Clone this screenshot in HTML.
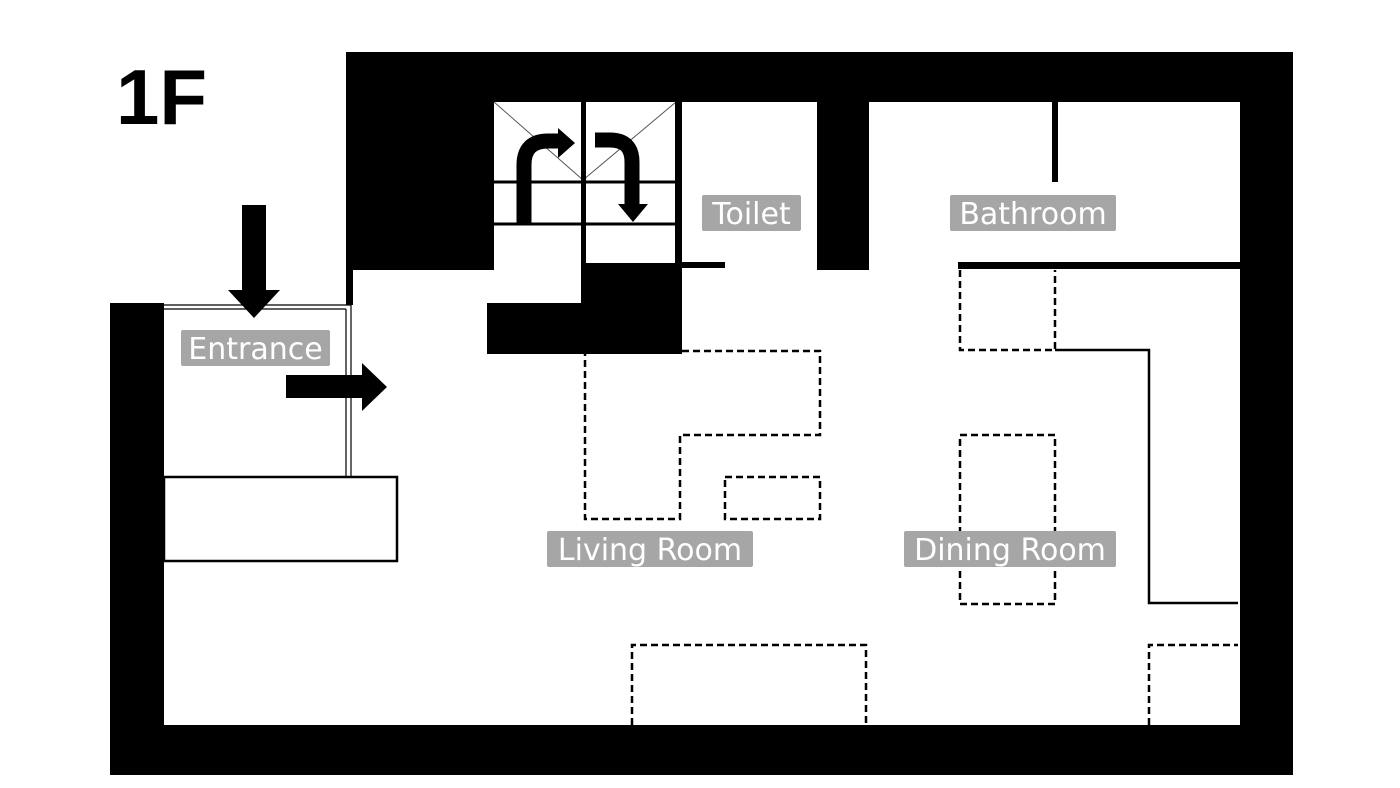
<!DOCTYPE html>
<html><head><style>
html,body{margin:0;padding:0;background:#fff;}
svg{display:block;}
.lb{font-family:"DejaVu Sans","Liberation Sans",sans-serif;font-size:30px;fill:#fff;}
</style></head><body>
<svg width="1400" height="788" viewBox="0 0 1400 788" xmlns="http://www.w3.org/2000/svg">
<rect width="1400" height="788" fill="#fff"/>
<text x="116" y="124" font-family="Liberation Sans,sans-serif" font-weight="bold" font-size="78" fill="#000">1F</text>
<!-- outer walls -->
<rect x="346" y="52" width="947" height="50" fill="#000"/>
<rect x="1240" y="52" width="53" height="723" fill="#000"/>
<rect x="110" y="725" width="1183" height="50" fill="#000"/>
<rect x="110" y="303" width="54" height="472" fill="#000"/>
<rect x="346" y="52" width="148" height="218" fill="#000"/>
<rect x="346" y="52" width="7" height="253" fill="#000"/>
<!-- stairs -->
<g stroke="#000" fill="none">
<line x1="494" y1="102" x2="583" y2="180" stroke-width="1" stroke="#555"/>
<line x1="676" y1="102" x2="583" y2="180" stroke-width="1" stroke="#555"/>
<line x1="494" y1="182" x2="676" y2="182" stroke-width="3"/>
<line x1="494" y1="224" x2="676" y2="224" stroke-width="3"/>
</g>
<rect x="581" y="102" width="5" height="203" fill="#000"/>
<rect x="675" y="102" width="7" height="168" fill="#000"/>
<rect x="583" y="263" width="99" height="91" fill="#000"/>
<rect x="487" y="303" width="100" height="51" fill="#000"/>
<rect x="680" y="262" width="45" height="6" fill="#000"/>
<!-- stair arrows -->
<path d="M524 224 V165 Q524 141 548 141 H560" stroke="#000" stroke-width="15" fill="none"/>
<polygon points="558,128 575,143 558,158" fill="#000"/>
<path d="M595 140 H610 Q632 140 632 162 V205" stroke="#000" stroke-width="15" fill="none"/>
<polygon points="618,204 648,204 633,222" fill="#000"/>
<!-- toilet/bath walls -->
<rect x="817" y="102" width="52" height="168" fill="#000"/>
<rect x="1052" y="102" width="6" height="80" fill="#000"/>
<rect x="958" y="262" width="282" height="7" fill="#000"/>
<!-- dashed furniture -->
<g stroke="#000" stroke-width="2.5" fill="none" stroke-dasharray="7,4">
<polyline points="682,351 820,351 820,435 680,435 680,519 585,519 585,354"/>
<rect x="725" y="477" width="95" height="42"/>
<rect x="960" y="435" width="95" height="169"/>
<polyline points="960,270 960,350 1055,350 1055,270"/>
<polyline points="632,725 632,645 866,645 866,725"/>
<polyline points="1149,725 1149,645 1238,645"/>
</g>
<polyline points="1055,350 1149,350 1149,603 1238,603" stroke="#000" stroke-width="2.5" fill="none"/>
<!-- entrance -->
<g stroke="#000" fill="none" stroke-width="1.2">
<line x1="164" y1="305" x2="351" y2="305"/>
<line x1="164" y1="309" x2="346" y2="309"/>
<line x1="346" y1="309" x2="346" y2="477"/>
<line x1="351" y1="305" x2="351" y2="477"/>
</g>
<rect x="164" y="477" width="233" height="84" fill="none" stroke="#000" stroke-width="2.5"/>
<rect x="242" y="205" width="24" height="87" fill="#000"/>
<polygon points="228,290 280,290 254,318" fill="#000"/>
<rect x="286" y="375" width="78" height="23" fill="#000"/>
<polygon points="362,363 387,387 362,411" fill="#000"/>
<!-- labels -->
<g fill="#a6a6a6">
<rect x="702" y="195" width="99" height="36" rx="2"/>
<rect x="950" y="195" width="166" height="36" rx="2"/>
<rect x="181" y="330" width="149" height="36" rx="2"/>
<rect x="547" y="531" width="206" height="36" rx="2"/>
<rect x="904" y="531" width="212" height="36" rx="2"/>
</g>
<text class="lb" x="751.5" y="224" text-anchor="middle">Toilet</text>
<text class="lb" x="1033" y="224" text-anchor="middle">Bathroom</text>
<text class="lb" x="255.5" y="359" text-anchor="middle">Entrance</text>
<text class="lb" x="650" y="560" text-anchor="middle">Living Room</text>
<text class="lb" x="1010" y="560" text-anchor="middle">Dining Room</text>
</svg>
</body></html>
